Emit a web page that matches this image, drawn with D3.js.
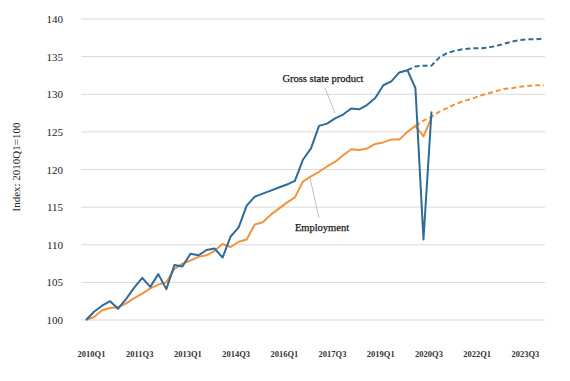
<!DOCTYPE html>
<html>
<head>
<meta charset="utf-8">
<script src="https://cdn.jsdelivr.net/npm/d3@7"></script>
<style>
  body { margin: 0; background: #fff; }
  svg, svg text { font-family: 'Liberation Serif', 'Times New Roman', 'DejaVu Serif', serif !important; }
</style>
</head>
<body>
<div class="chart"></div>
<script>
/* global d3 */
const svgWidth = 570;
const svgHeight = 381;
const serif = "'Liberation Serif', 'Times New Roman', serif";

// quarters 2010Q1 .. 2024Q2
const quarters = [];
for (let yr = 2010; yr <= 2024; yr++) {
  for (let q = 1; q <= 4; q++) quarters.push(yr + "Q" + q);
}
quarters.splice(quarters.indexOf("2024Q3"));

const tickLabels = ["2010Q1", "2011Q3", "2013Q1", "2014Q3", "2016Q1", "2017Q3",
                    "2019Q1", "2020Q3", "2022Q1", "2023Q3"];
const yTicks = [100, 105, 110, 115, 120, 125, 130, 135, 140];

// actuals from 2010Q1
const gspActual = [
  100.0, 101.1, 101.9, 102.5, 101.5, 102.8, 104.3, 105.6, 104.4, 106.1,
  104.1, 107.3, 107.1, 108.8, 108.6, 109.3, 109.5, 108.3, 111.1, 112.3,
  115.2, 116.4, 116.8, 117.2, 117.6, 118.0, 118.5, 121.3, 122.8, 125.8,
  126.1, 126.8, 127.3, 128.1, 128.0, 128.6, 129.5, 131.2, 131.7, 132.9,
  133.2, 130.8, 110.7, 127.7];
const empActual = [
  100.0, 100.4, 101.3, 101.6, 101.7, 102.2, 102.9, 103.5, 104.2, 104.7,
  105.0, 106.8, 107.5, 107.9, 108.4, 108.6, 109.2, 110.1, 109.7, 110.4,
  110.7, 112.7, 113.0, 114.0, 114.8, 115.6, 116.3, 118.4, 119.1, 119.7,
  120.4, 121.0, 121.9, 122.7, 122.6, 122.8, 123.4, 123.6, 124.0, 124.0,
  125.0, 125.8, 124.4, 126.9];

// forecasts (dashed)
const gspForecastStart = "2020Q1";
const gspForecast = [133.2, 133.7, 133.8, 133.8, 134.9, 135.5, 135.8, 136.0, 136.1,
                     136.1, 136.2, 136.4, 136.7, 137.0, 137.2, 137.3, 137.3, 137.4];
const empForecastStart = "2020Q2";
const empForecast = [125.8, 126.5, 127.0, 127.7, 128.2, 128.7, 129.1, 129.4, 129.8,
                     130.1, 130.4, 130.7, 130.8, 131.0, 131.1, 131.2, 131.2];

const blue = "#2f6b99";
const orange = "#f5923e";

const x = d3.scalePoint()
    .domain(quarters)
    .range([86, 544]);
const y = d3.scaleLinear()
    .domain([100, 140])
    .range([320, 19]);

let svg = d3.select(".chart").append("svg")
    .attr("width", svgWidth)
    .attr("height", svgHeight);

// gridlines
svg.append("g")
  .selectAll("line")
  .data(yTicks)
  .join("line")
    .attr("x1", x(quarters[0]) - 5)
    .attr("x2", x(quarters[quarters.length - 1]) + 1)
    .attr("y1", d => y(d))
    .attr("y2", d => y(d))
    .attr("stroke", "#d9d9d9")
    .attr("stroke-width", 1);

// y axis labels
const yAxis = svg.append("g")
    .attr("transform", "translate(63,0)")
    .call(d3.axisLeft(y).tickValues(yTicks).tickSize(0).tickPadding(0));
yAxis.attr("font-family", null);
yAxis.select(".domain").remove();
yAxis.selectAll("text")
    .style("font-family", serif)
    .attr("font-size", 11)
    .attr("fill", "#222");

svg.append("text")
    .attr("transform", "translate(20,167) rotate(-90)")
    .attr("text-anchor", "middle")
    .style("font-family", serif)
    .attr("font-size", 11)
    .attr("fill", "#222")
    .text("Index: 2010Q1=100");

// x axis labels
const xAxis = svg.append("g")
    .attr("transform", "translate(5,351)")
    .call(d3.axisBottom(x).tickValues(tickLabels).tickSize(0).tickPadding(0));
xAxis.attr("font-family", null);
xAxis.select(".domain").remove();
xAxis.selectAll("text")
    .style("font-family", serif)
    .attr("font-size", 8.5)
    .attr("font-weight", "bold")
    .attr("fill", "#333");

const line = d3.line()
    .x(d => x(d.q))
    .y(d => y(d.v));

const toPoints = (vals, start) => {
  const i0 = quarters.indexOf(start);
  return vals.map((v, i) => ({ q: quarters[i0 + i], v: v }));
};

const series = [
  { pts: toPoints(empForecast, empForecastStart), color: orange, dash: "5,3" },
  { pts: toPoints(gspForecast, gspForecastStart), color: blue, dash: "5,3" },
  { pts: toPoints(empActual, "2010Q1"), color: orange, dash: null },
  { pts: toPoints(gspActual, "2010Q1"), color: blue, dash: null }
];

svg.append("g")
  .selectAll("path")
  .data(series)
  .join("path")
    .attr("d", d => line(d.pts))
    .attr("fill", "none")
    .attr("stroke", d => d.color)
    .attr("stroke-width", 2)
    .attr("stroke-linejoin", "round")
    .attr("stroke-dasharray", d => d.dash);

// annotations with leader lines
const notes = [
  { text: "Gross state product", tx: 323, ty: 82, x1: 325, y1: 88, x2: 335, y2: 113 },
  { text: "Employment", tx: 322, ty: 231, x1: 310, y1: 178, x2: 319, y2: 218 }
];
svg.append("g")
  .selectAll("line")
  .data(notes)
  .join("line")
    .attr("x1", d => d.x1).attr("y1", d => d.y1)
    .attr("x2", d => d.x2).attr("y2", d => d.y2)
    .attr("stroke", "#bfbfbf")
    .attr("stroke-width", 1);
svg.append("g")
  .selectAll("text")
  .data(notes)
  .join("text")
    .attr("x", d => d.tx)
    .attr("y", d => d.ty)
    .attr("text-anchor", "middle")
    .style("font-family", serif)
    .attr("font-size", 10.5)
    .attr("font-weight", "normal")
    .attr("stroke", "#222")
    .attr("stroke-width", 0.25)
    .attr("fill", "#111")
    .text(d => d.text);
</script>
</body>
</html>
